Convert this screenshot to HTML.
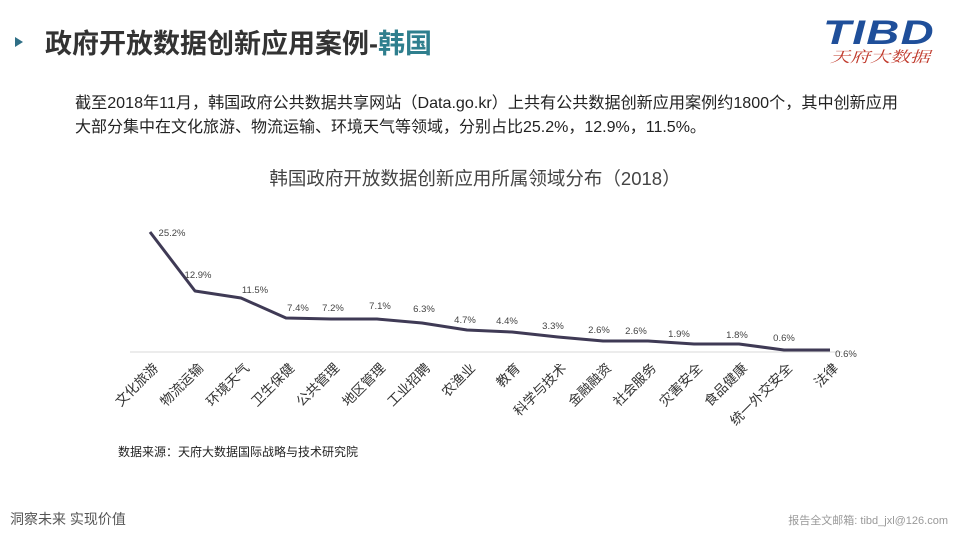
<!DOCTYPE html>
<html><head><meta charset="utf-8"><style>
body{margin:0;width:960px;height:540px;background:#fff;overflow:hidden;font-family:"Liberation Sans","Noto Sans CJK SC",sans-serif}
</style></head><body>
<svg width="960" height="540" xmlns="http://www.w3.org/2000/svg" font-family="Liberation Sans, Noto Sans CJK SC, sans-serif">
<polygon points="15,37 15,47 23,42" fill="#2f6f86"/>
<text x="45" y="53" font-size="27" font-weight="bold" fill="#333">政府开放数据创新应用案例-<tspan fill="#2f7f8e">韩国</tspan></text>
<text x="823" y="44" font-size="34" font-weight="bold" font-style="italic" fill="#1f4f9a" letter-spacing="1" textLength="112" lengthAdjust="spacingAndGlyphs">TIBD</text>
<text x="830" y="62" font-size="15" font-style="italic" fill="#c0392b" font-family="Noto Serif CJK SC, serif" textLength="100" lengthAdjust="spacingAndGlyphs">天府大数据</text>
<text x="75" y="108" font-size="16" fill="#222" textLength="823" lengthAdjust="spacingAndGlyphs">截至2018年11月，韩国政府公共数据共享网站（Data.go.kr）上共有公共数据创新应用案例约1800个，其中创新应用</text>
<text x="75" y="132" font-size="16" fill="#222">大部分集中在文化旅游、物流运输、环境天气等领域，分别占比25.2%，12.9%，11.5%。</text>
<text x="475" y="185" font-size="18.5" fill="#444" text-anchor="middle">韩国政府开放数据创新应用所属领域分布（2018）</text>
<line x1="130" y1="352" x2="842" y2="352" stroke="#d9d9d9" stroke-width="1"/>
<polyline fill="none" stroke="#3f3a55" stroke-width="3" stroke-linejoin="round" points="150,232 195,291 241,298 286,318 331,319 377,319 422,323 467,330 512,332 558,337 603,341 648,341 694,344 739,344 784,350 830,350"/>
<g font-size="9.5" fill="#444" text-anchor="middle">
<text x="172" y="236">25.2%</text><text x="198" y="278">12.9%</text><text x="255" y="293">11.5%</text>
<text x="298" y="311">7.4%</text><text x="333" y="311">7.2%</text><text x="380" y="309">7.1%</text>
<text x="424" y="312">6.3%</text><text x="465" y="323">4.7%</text><text x="507" y="324">4.4%</text>
<text x="553" y="329">3.3%</text><text x="599" y="333">2.6%</text><text x="636" y="334">2.6%</text>
<text x="679" y="337">1.9%</text><text x="737" y="338">1.8%</text><text x="784" y="341">0.6%</text>
<text x="846" y="357">0.6%</text>
</g>
<g font-size="13.5" fill="#333" text-anchor="end">
<text transform="translate(159,369) rotate(-45)">文化旅游</text>
<text transform="translate(204,369) rotate(-45)">物流运输</text>
<text transform="translate(250,369) rotate(-45)">环境天气</text>
<text transform="translate(295,369) rotate(-45)">卫生保健</text>
<text transform="translate(340,369) rotate(-45)">公共管理</text>
<text transform="translate(386,369) rotate(-45)">地区管理</text>
<text transform="translate(431,369) rotate(-45)">工业招聘</text>
<text transform="translate(476,369) rotate(-45)">农渔业</text>
<text transform="translate(521,369) rotate(-45)">教育</text>
<text transform="translate(567,369) rotate(-45)">科学与技术</text>
<text transform="translate(612,369) rotate(-45)">金融融资</text>
<text transform="translate(657,369) rotate(-45)">社会服务</text>
<text transform="translate(703,369) rotate(-45)">灾害安全</text>
<text transform="translate(748,369) rotate(-45)">食品健康</text>
<text transform="translate(793,369) rotate(-45)">统一外交安全</text>
<text transform="translate(839,369) rotate(-45)">法律</text>
</g>
<text x="118" y="456" font-size="12" fill="#222">数据来源：天府大数据国际战略与技术研究院</text>
<text x="10" y="524" font-size="14" fill="#555">洞察未来 实现价值</text>
<text x="948" y="524" font-size="11" fill="#999" text-anchor="end">报告全文邮箱: tibd_jxl@126.com</text>
</svg>
</body></html>
